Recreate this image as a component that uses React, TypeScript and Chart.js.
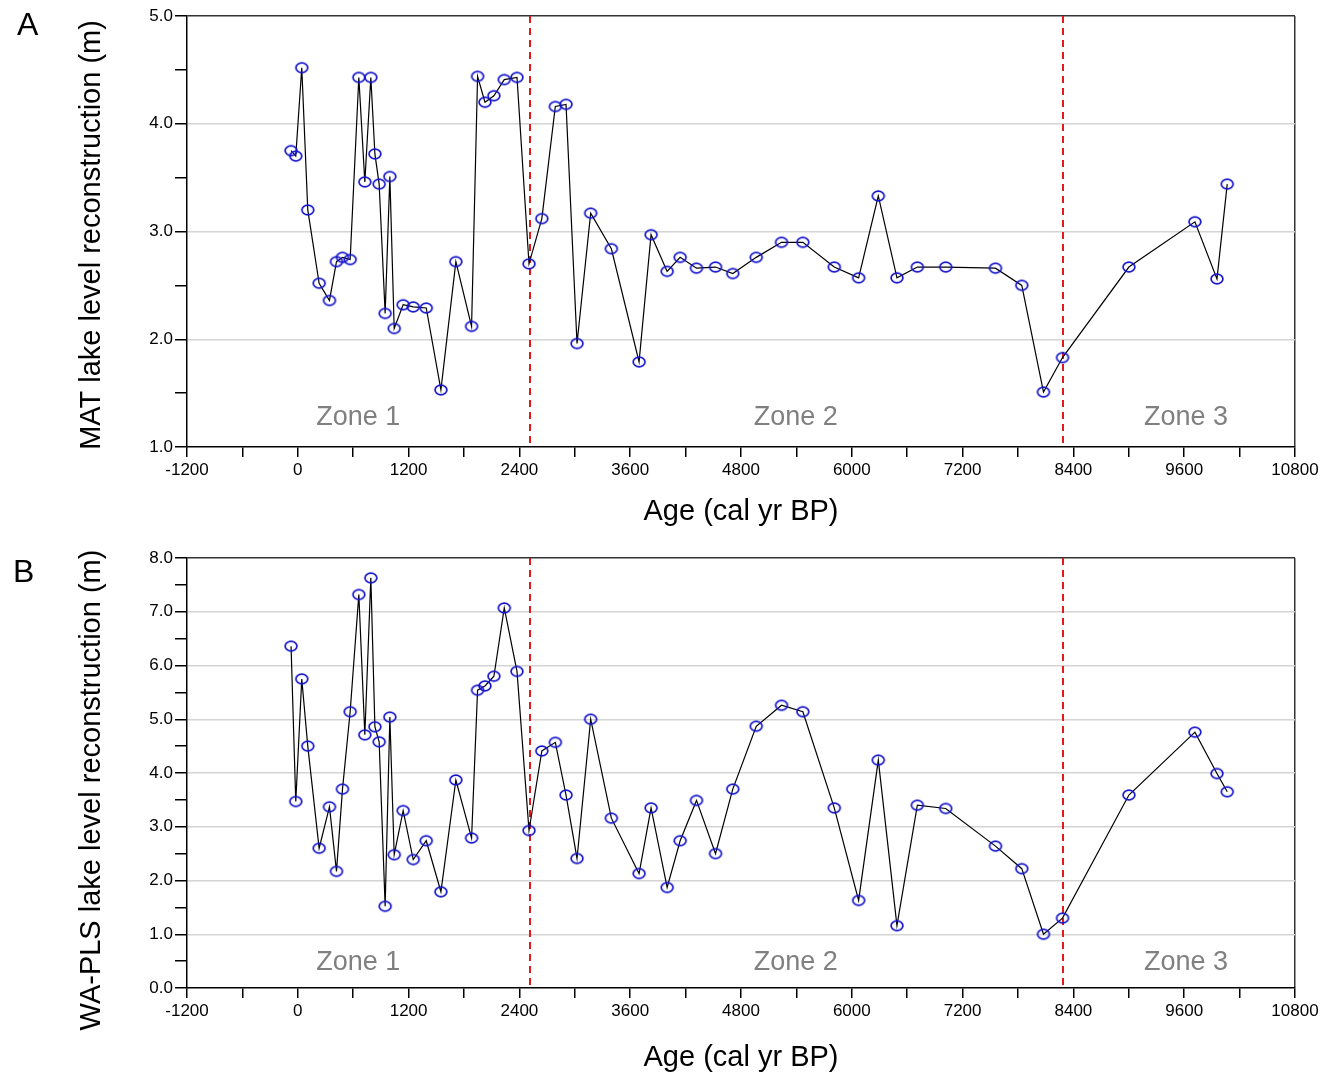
import React, { useEffect, useRef } from 'react';
import { Chart, registerables } from 'chart.js';

Chart.register(...registerables);

// Sample ages (cal yr BP), shared by both reconstructions
const ages = [
  -73, -22, 43, 108, 231, 343, 419, 484, 567, 661,
  726, 791, 835, 881, 946, 997, 1044, 1141, 1250, 1391,
  1550, 1712, 1882, 1947, 2027, 2124, 2236, 2374, 2504, 2643,
  2789, 2905, 3024, 3172, 3396, 3696, 3826, 4000, 4141, 4318,
  4524, 4711, 4965, 5239, 5470, 5810, 6074, 6287, 6489, 6710,
  7017, 7556, 7841, 8076, 8282, 9001, 9716, 9955, 10066,
];

// Panel A: MAT lake level reconstruction (m)
const matLevels = [
  3.75, 3.70, 4.52, 3.20, 2.52, 2.36, 2.72, 2.76, 2.74, 4.43,
  3.46, 4.43, 3.72, 3.44, 2.24, 3.51, 2.10, 2.32, 2.30, 2.29,
  1.53, 2.72, 2.12, 4.44, 4.20, 4.26, 4.41, 4.43, 2.70, 3.12,
  4.16, 4.18, 1.96, 3.17, 2.84, 1.79, 2.97, 2.63, 2.76, 2.66,
  2.67, 2.61, 2.76, 2.90, 2.90, 2.67, 2.57, 3.33, 2.57, 2.67,
  2.67, 2.66, 2.50, 1.51, 1.83, 2.67, 3.09, 2.56, 3.44,
];

// Panel B: WA-PLS lake level reconstruction (m)
const waplsLevels = [
  6.36, 3.47, 5.75, 4.50, 2.60, 3.37, 2.17, 3.70, 5.14, 7.32,
  4.71, 7.63, 4.86, 4.58, 1.52, 5.04, 2.48, 3.30, 2.39, 2.74,
  1.79, 3.87, 2.79, 5.54, 5.62, 5.80, 7.07, 5.89, 2.93, 4.41,
  4.57, 3.59, 2.41, 5.00, 3.16, 2.13, 3.35, 1.87, 2.74, 3.49,
  2.50, 3.70, 4.87, 5.26, 5.14, 3.35, 1.63, 4.24, 1.16, 3.40,
  3.34, 2.64, 2.22, 1.00, 1.30, 3.59, 4.76, 3.99, 3.65,
];

const zoneBoundaries = [2510, 8290];
const zoneNames = ['Zone 1', 'Zone 2', 'Zone 3'];
const zoneNameAges = [654, 5393, 9620];

const xMin = -1200;
const xMax = 10800;
const xMinorStep = 600;
const xLabelStep = 1200;

const FONT = "Arial, 'Liberation Sans', Helvetica, sans-serif";

const W = 1327;

function makeMarker(): HTMLCanvasElement {
  const c = document.createElement('canvas');
  c.width = 16;
  c.height = 14;
  const g = c.getContext('2d')!;
  g.strokeStyle = '#1414cc';
  g.lineWidth = 1.7;
  g.beginPath();
  g.ellipse(8, 7, 5.9, 4.8, 0, 0, Math.PI * 2);
  g.stroke();
  return c;
}

const decorPlugin = {
  id: 'decor',
  beforeDatasetsDraw(chart: any, _args: any, opts: any) {
    const { ctx, chartArea, scales } = chart;
    ctx.save();
    // zone labels
    ctx.fillStyle = '#808080';
    ctx.font = `27px ${FONT}`;
    ctx.textAlign = 'center';
    ctx.textBaseline = 'middle';
    zoneNames.forEach((name, i) => {
      const x = scales.x.getPixelForValue(zoneNameAges[i]);
      const y = scales.y.getPixelForValue(opts.zoneY);
      ctx.fillText(name, x, y);
    });
    // zone boundaries
    ctx.strokeStyle = '#e3191c';
    ctx.lineWidth = 2;
    ctx.setLineDash([7, 5]);
    zoneBoundaries.forEach((b) => {
      const x = Math.round(scales.x.getPixelForValue(b));
      ctx.beginPath();
      ctx.moveTo(x, chartArea.top);
      ctx.lineTo(x, chartArea.bottom);
      ctx.stroke();
    });
    ctx.restore();
  },
  afterDraw(chart: any, _args: any, opts: any) {
    const { ctx } = chart;
    ctx.save();
    ctx.fillStyle = '#000';
    ctx.font = `32px ${FONT}`;
    ctx.textAlign = 'left';
    ctx.textBaseline = 'alphabetic';
    ctx.fillText(opts.letter, opts.letterX, opts.letterY);
    ctx.translate(opts.titleX, opts.titleY);
    ctx.rotate(-Math.PI / 2);
    ctx.font = `29px ${FONT}`;
    ctx.textAlign = 'center';
    ctx.textBaseline = 'middle';
    ctx.fillText(opts.yTitle, 0, 0);
    ctx.restore();
  },
};

type PanelProps = {
  top: number;
  height: number;
  values: number[];
  yMin: number;
  yMax: number;
  padTop: number;
  xAxisHeight: number;
  xTitlePad: number;
  letter: string;
  letterX: number;
  letterY: number;
  yTitle: string;
  titleY: number;
  zoneY: number;
};

function Panel(p: PanelProps) {
  const ref = useRef<HTMLCanvasElement | null>(null);
  useEffect(() => {
    if (!ref.current) return;
    const marker = makeMarker();
    const chart = new Chart(ref.current, {
      type: 'line',
      data: {
        datasets: [
          {
            data: ages.map((a, i) => ({ x: a, y: p.values[i] })),
            borderColor: '#000',
            borderWidth: 1.2,
            pointStyle: marker,
            pointRadius: 6,
            pointHoverRadius: 6,
            tension: 0,
            fill: false,
          },
        ],
      },
      options: {
        animation: false,
        responsive: false,
        devicePixelRatio: 1,
        layout: { padding: { left: 0, right: W - 1295, top: p.padTop, bottom: 0 } },
        plugins: {
          legend: { display: false },
          tooltip: { enabled: false },
          decor: {
            letter: p.letter,
            letterX: p.letterX,
            letterY: p.letterY,
            yTitle: p.yTitle,
            titleX: 92,
            titleY: p.titleY,
            zoneY: p.zoneY,
          },
        } as any,
        scales: {
          x: {
            type: 'linear',
            min: xMin,
            max: xMax,
            afterFit: (s: any) => {
              s.height = p.xAxisHeight;
            },
            border: { color: '#000', width: 1.5 },
            grid: {
              color: (c: any) => (c.tick && c.tick.value === xMax ? '#333' : 'rgba(0,0,0,0)'),
              lineWidth: 1.5,
              tickColor: '#000',
              tickLength: 10,
              drawTicks: true,
            },
            ticks: {
              stepSize: xMinorStep,
              autoSkip: false,
              maxRotation: 0,
              padding: 3,
              color: '#000',
              font: { family: FONT, size: 17 },
              callback: (v: any) => (Number(v) % xLabelStep === 0 ? String(v) : ''),
            },
            title: {
              display: true,
              text: 'Age (cal yr BP)',
              color: '#000',
              font: { family: FONT, size: 29 },
              padding: { top: 0, bottom: p.xTitlePad },
            },
          },
          y: {
            type: 'linear',
            min: p.yMin,
            max: p.yMax,
            afterFit: (s: any) => {
              s.width = 187;
            },
            border: { color: '#000', width: 1.5 },
            grid: {
              color: (c: any) => {
                const v = c.tick ? c.tick.value : NaN;
                if (v === p.yMax) return '#333';
                if (Number.isInteger(v) && v !== p.yMin) return '#d4d4d4';
                return 'rgba(0,0,0,0)';
              },
              lineWidth: 1.5,
              tickColor: '#000',
              tickLength: 12,
            },
            ticks: {
              stepSize: 0.5,
              autoSkip: false,
              padding: 2,
              color: '#000',
              font: { family: FONT, size: 17 },
              callback: (v: any) => (Number.isInteger(Number(v)) ? Number(v).toFixed(1) : ''),
            },
          },
        },
      },
      plugins: [decorPlugin],
    } as any);
    return () => chart.destroy();
  }, []);
  return (
    <canvas
      ref={ref}
      width={W}
      height={p.height}
      style={{ position: 'absolute', left: 0, top: p.top, width: W, height: p.height }}
    />
  );
}

export default function App() {
  return (
    <div style={{ position: 'absolute', left: 0, top: 0, width: W, height: 1079, background: '#fff' }}>
      <Panel
        top={0}
        height={540}
        values={matLevels}
        yMin={1}
        yMax={5}
        padTop={16}
        xAxisHeight={93}
        xTitlePad={11}
        letter="A"
        letterX={17}
        letterY={35}
        yTitle="MAT lake level reconstruction (m)"
        titleY={235}
        zoneY={1.27}
      />
      <Panel
        top={540}
        height={539}
        values={waplsLevels}
        yMin={0}
        yMax={8}
        padTop={18}
        xAxisHeight={91}
        xTitlePad={4}
        letter="B"
        letterX={13}
        letterY={42}
        yTitle="WA-PLS lake level reconstruction (m)"
        titleY={250}
        zoneY={0.47}
      />
    </div>
  );
}
